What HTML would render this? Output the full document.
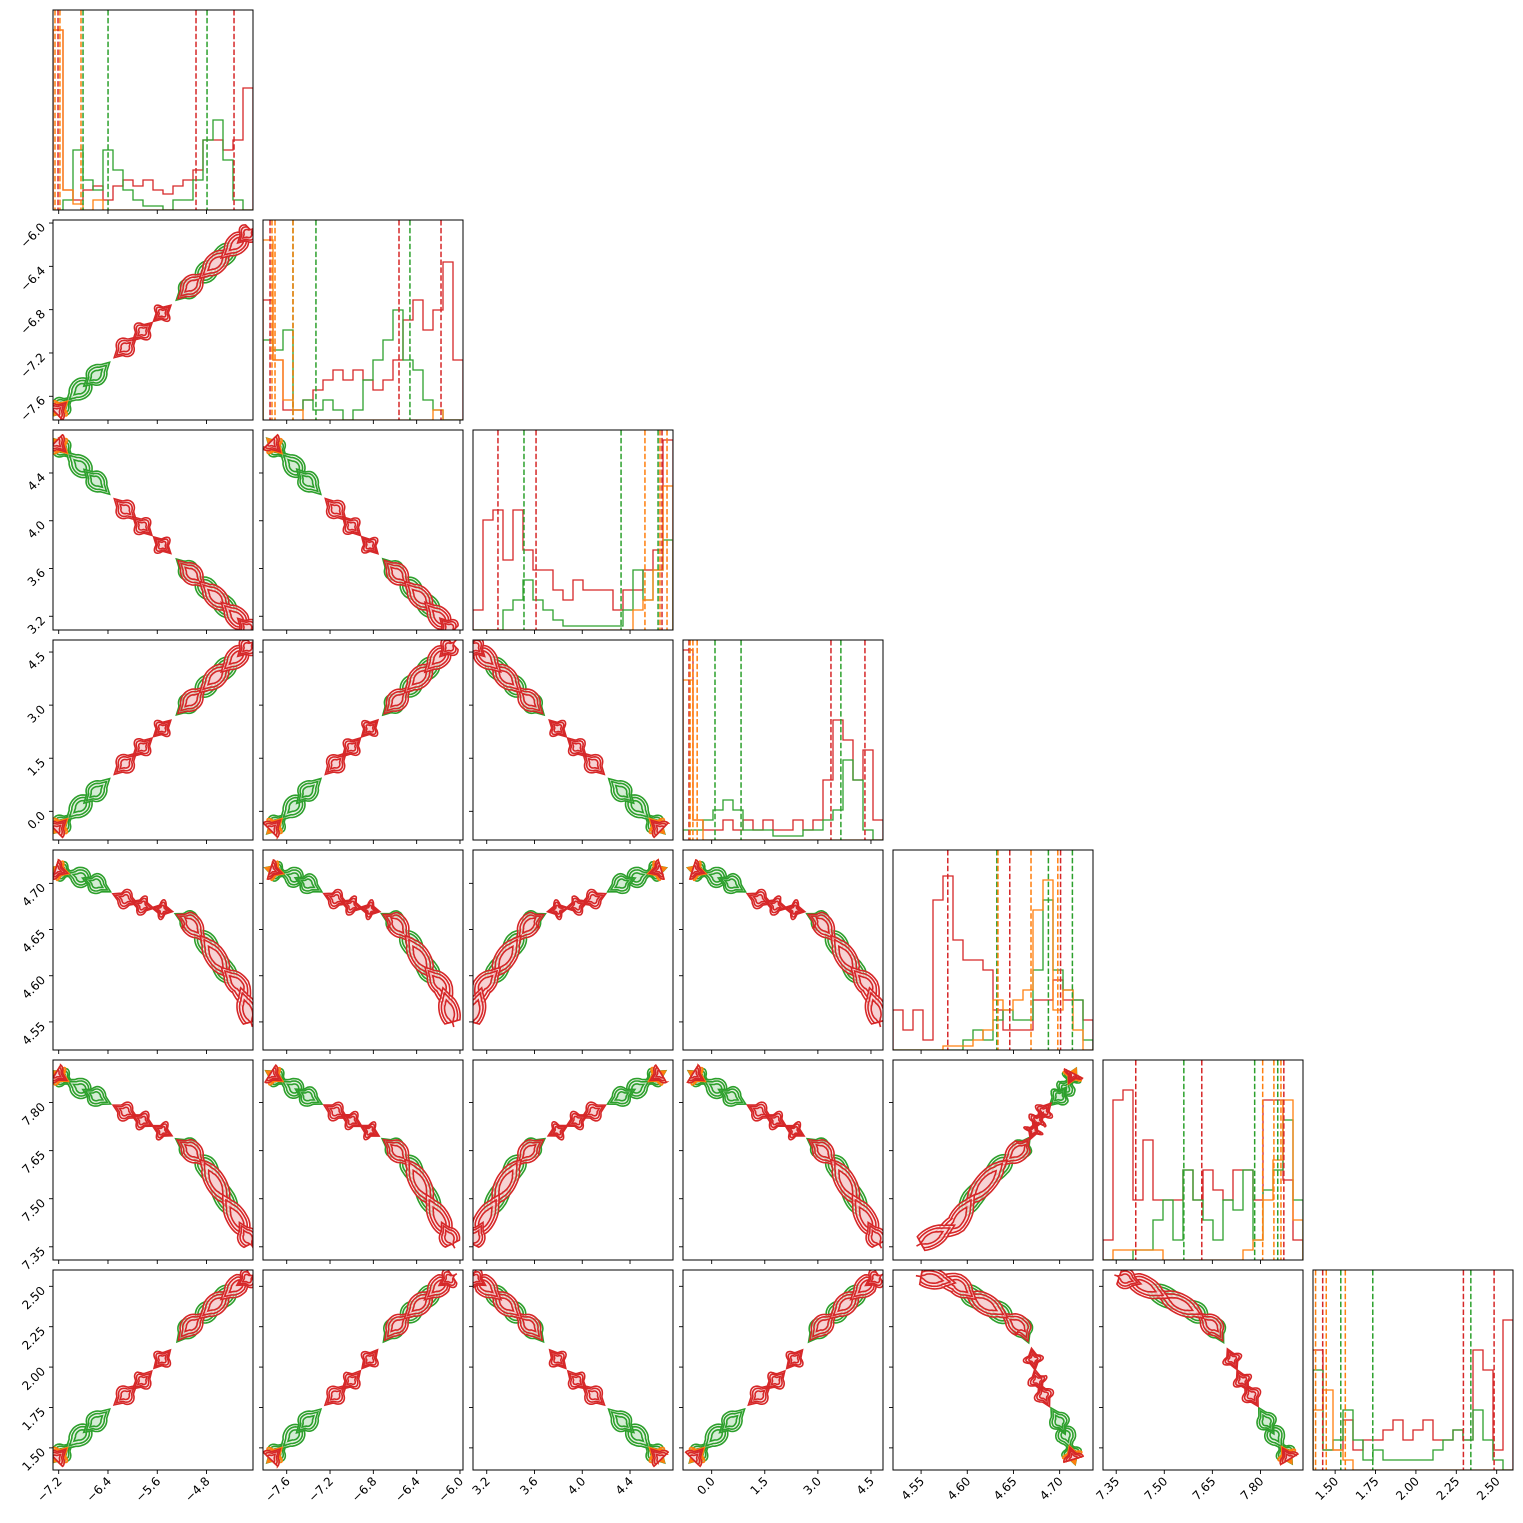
<!DOCTYPE html>
<html><head><meta charset="utf-8">
<style>
html,body{margin:0;padding:0;background:#fff;}
svg{display:block;font-family:"DejaVu Sans","Liberation Sans",sans-serif;}
</style></head>
<body>
<svg id="fig" xmlns="http://www.w3.org/2000/svg" width="1523" height="1523" viewBox="0 0 1523 1523"></svg>
<script>
// ---- axis ranges and ticks ----
const rangeLo=[-7.2925,-7.819,3.085,-0.81,4.5196,7.3088,1.363];
const rangeHi=[-4.046,-5.972,4.760,4.84,4.7361,7.9328,2.601];
const ticks0=[-7.2,-6.4,-5.6,-4.8];
const ticks1=[-7.6,-7.2,-6.8,-6.4,-6.0];
const ticks2=[3.2,3.6,4.0,4.4];
const ticks3=[0.0,1.5,3.0,4.5];
const ticks4=[4.55,4.60,4.65,4.70];
const ticks5=[7.35,7.50,7.65,7.80];
const ticks6=[1.50,1.75,2.00,2.25,2.50];
const tickDigits=[1,1,1,1,2,2,2];
// ---- parameter ridge (knots along latent t = 0,0.1,...,1) ----
const ridge0=[-7.25,-6.9,-6.6,-6.2,-5.8,-5.4,-5.1,-4.8,-4.5,-4.25,-4.08];
const ridge1=[-7.75,-7.56,-7.41,-7.19,-6.98,-6.77,-6.61,-6.45,-6.29,-6.16,-6.07];
const ridge2=[4.66,4.485,4.335,4.135,3.935,3.735,3.585,3.435,3.285,3.16,3.075];
const ridge3=[-0.53,0.05,0.55,1.21,1.88,2.54,3.04,3.54,4.04,4.45,4.73];
const ridge4=[4.715,4.708,4.70,4.685,4.675,4.67,4.66,4.635,4.605,4.588,4.55];
const ridge5=[7.89,7.85,7.82,7.78,7.74,7.70,7.66,7.60,7.50,7.42,7.36];
const ridge6=[1.43,1.56,1.66,1.80,1.93,2.10,2.24,2.34,2.44,2.52,2.56];
// ---- contour modes (position along ridge, half-extent) ----
const redModeT=[0.0,0.32,0.39,0.47,0.62,0.75,0.88,0.97];
const redModeW=[0.02,0.02,0.015,0.012,0.04,0.05,0.06,0.04];
const greenModeT=[0.03,0.12,0.2,0.6,0.7,0.8];
const greenModeW=[0.02,0.04,0.03,0.03,0.04,0.05];
const orangeModeT=[0.0,0.02];
const orangeModeW=[0.015,0.01];
// ---- histograms (20 bins each, fraction of panel height) ----
const histRed=[
[0.9,0.1,0.05,0.1,0.12,0.05,0.12,0.15,0.12,0.15,0.1,0.08,0.12,0.15,0.2,0.35,0.35,0.3,0.35,0.61],
[0.6,0.3,0.05,0.05,0.1,0.15,0.2,0.25,0.2,0.25,0.2,0.15,0.2,0.3,0.5,0.6,0.45,0.55,0.79,0.3],
[0.1,0.55,0.6,0.35,0.6,0.4,0.3,0.3,0.2,0.15,0.25,0.2,0.2,0.2,0.1,0.2,0.2,0.3,0.4,0.95],
[0.95,0.1,0.05,0.05,0.1,0.05,0.1,0.05,0.1,0.05,0.05,0.1,0.05,0.1,0.3,0.6,0.5,0.3,0.45,0.1],
[0.2,0.1,0.2,0.05,0.75,0.87,0.55,0.45,0.45,0.4,0.2,0.1,0.1,0.1,0.25,0.25,0.35,0.25,0.25,0.15],
[0.1,0.8,0.85,0.3,0.6,0.3,0.3,0.3,0.45,0.3,0.45,0.35,0.3,0.45,0.45,0.3,0.8,0.8,0.4,0.1],
[0.6,0.1,0.1,0.25,0.1,0.15,0.15,0.2,0.25,0.15,0.2,0.25,0.15,0.15,0.2,0.15,0.6,0.5,0.1,0.75]];
const histGreen=[
[0,0.05,0.3,0.15,0.1,0.3,0.2,0.1,0.05,0.02,0.02,0,0.05,0.05,0.15,0.35,0.45,0.25,0.05,0],
[0.4,0.35,0.45,0.05,0.1,0.05,0.1,0.05,0,0.05,0.2,0.3,0.4,0.55,0.3,0.25,0.1,0.05,0,0],
[0,0,0,0.1,0.15,0.25,0.15,0.1,0.05,0.02,0.02,0.02,0.02,0.02,0.02,0.1,0.3,0.15,0.3,0.45],
[0.05,0.05,0.1,0.15,0.2,0.15,0.05,0.05,0.05,0.02,0.02,0.02,0.05,0.05,0.1,0.15,0.4,0.3,0.05,0],
[0,0,0,0,0,0,0,0.05,0.1,0.05,0.15,0.2,0.15,0.15,0.4,0.75,0.4,0.3,0.25,0.05],
[0,0,0,0.05,0.05,0.2,0.3,0.1,0.45,0.3,0.2,0.1,0.3,0.25,0.45,0.1,0.35,0.45,0.7,0.3],
[0.5,0.1,0.15,0.3,0.15,0.05,0.1,0.05,0.05,0.05,0.05,0.05,0.1,0.15,0.2,0.15,0.3,0.15,0.05,0]];
const histOrange=[
[0.9,0.1,0.03,0,0.05,0,0,0,0,0,0,0,0,0,0,0,0,0,0,0],
[0.9,0.3,0.1,0.05,0,0,0,0,0,0,0,0,0,0,0,0,0,0.05,0,0],
[0,0,0,0,0,0,0,0,0,0,0,0,0,0,0,0,0.1,0.15,0.3,0.72],
[0.8,0.1,0,0,0,0,0,0,0,0,0,0,0,0,0,0,0,0,0,0],
[0,0,0,0,0,0.02,0.02,0.02,0.05,0.1,0.25,0.2,0.25,0.3,0.7,0.85,0.2,0.3,0.1,0],
[0,0.05,0.05,0.05,0.05,0.05,0,0,0,0,0,0,0,0,0.05,0.1,0.3,0.5,0.8,0.2],
[0.3,0.4,0.1,0.05,0,0,0,0,0,0,0,0,0,0,0,0,0,0,0,0]];
// ---- quantiles (16/50/84%) ----
const qRed=[[-7.211,-4.971,-4.354],[-7.754,-6.563,-6.175],[3.294,3.613,4.668],[-0.64,3.37,4.33],[4.5789,4.646,4.701],[7.411,7.617,7.873],[1.423,2.294,2.484]];
const qGreen=[[-6.805,-6.399,-4.792],[-7.542,-7.33,-6.462],[3.512,4.325,4.635],[0.094,0.83,3.65],[4.632,4.6878,4.7138],[7.561,7.782,7.854],[1.535,1.733,2.34]];
const qOrange=[[-7.26,-7.18,-6.838],[-7.736,-7.708,-7.542],[4.525,4.651,4.71],[-0.61,-0.53,-0.41],[4.6332,4.669,4.698],[7.807,7.842,7.864],[1.379,1.445,1.563]];

const ticksAll=[ticks0,ticks1,ticks2,ticks3,ticks4,ticks5,ticks6];
const ridges=[ridge0,ridge1,ridge2,ridge3,ridge4,ridge5,ridge6];
const RED='#d62728',GREEN='#2ca02c',ORANGE='#ff7f0e';
const NS='http://www.w3.org/2000/svg';
const fig=document.getElementById('fig');
const S=200,N=7;
function L(j){return 53+210*j;}
function T(i){return 10+210*i;}
function xs(j,v){return L(j)+(v-rangeLo[j])/(rangeHi[j]-rangeLo[j])*S;}
function ys(i,v){return T(i)+S-(v-rangeLo[i])/(rangeHi[i]-rangeLo[i])*S;}
function mk(tag,attrs,parent){const e=document.createElementNS(NS,tag);for(const k in attrs)e.setAttribute(k,attrs[k]);(parent||fig).appendChild(e);return e;}
function ridge(p,t){t=Math.max(0,Math.min(1,t));const f=t*10;const a=Math.min(9,Math.floor(f));const r=f-a;return ridges[p][a]*(1-r)+ridges[p][a+1]*r;}
function fmt(v,d){return (v<0?'\u2212':'')+Math.abs(v).toFixed(d);}

const defs=mk('defs',{});
for(let i=0;i<N;i++)for(let j=0;j<=i;j++){
  const cp=mk('clipPath',{id:'c'+i+'_'+j},defs);
  mk('rect',{x:L(j),y:T(i),width:S,height:S},cp);
}

function modeShape(i,j,t,w,rad){
  const M=16;
  const P=tt=>[xs(j,ridge(j,tt)),ys(i,ridge(i,tt))];
  const up=[],dn=[];
  for(let k=0;k<=M;k++){
    const u=k/M,tt=t-w+2*w*u;
    const a=P(tt-0.005),b=P(tt+0.005),c=P(tt);
    let dx=b[0]-a[0],dy=b[1]-a[1];const l=Math.hypot(dx,dy)||1;dx/=l;dy/=l;
    const r=rad*Math.sqrt(Math.max(0.15,1-(2*u-1)*(2*u-1)));
    up.push([c[0]-dy*r,c[1]+dx*r]);dn.push([c[0]+dy*r,c[1]-dx*r]);
  }
  const a0=P(t-w),a1=P(t-w+0.01),b0=P(t+w),b1=P(t+w-0.01);
  const e=(p,q)=>{let dx=p[0]-q[0],dy=p[1]-q[1];const l=Math.hypot(dx,dy)||1;return [p[0]+dx/l*rad*0.7,p[1]+dy/l*rad*0.7];};
  const all=[e(a0,a1),...up,e(b0,b1),...dn.reverse()];
  return all.map((p,k)=>(k?'L':'M')+p[0].toFixed(1)+' '+p[1].toFixed(1)).join('')+'Z';
}

for(let i=0;i<N;i++){
  for(let j=0;j<=i;j++){
    const g=mk('g',{'clip-path':'url(#c'+i+'_'+j+')'});
    
    
    if(i===j){
      const bw=S/20,bot=T(i)+S;
      [[histRed,RED,'red'],[histGreen,GREEN,'green'],[histOrange,ORANGE,'orange']].forEach(([H,col,nm])=>{
        let d='M'+L(j)+' '+bot;
        H[i].forEach((h,b)=>{const y=bot-h*S;d+='L'+(L(j)+b*bw)+' '+y+'L'+(L(j)+(b+1)*bw)+' '+y;});
        d+='L'+(L(j)+S)+' '+bot;
        const p=mk('path',{d:d,fill:'none',stroke:col,'stroke-width':1.3},g);
        
        
      });
      [[qRed,RED,'red'],[qGreen,GREEN,'green'],[qOrange,ORANGE,'orange']].forEach(([Q,col,nm])=>{
        Q[i].forEach(v=>{
          const x=xs(j,v);
          const ln=mk('line',{x1:x,x2:x,y1:T(i),y2:T(i)+S,stroke:col,'stroke-width':1.5,'stroke-dasharray':'5.5,2.4'},g);
          
          
        });
      });
    } else {
      [[greenModeT,greenModeW,GREEN,'#d3ecd3','green'],[orangeModeT,orangeModeW,ORANGE,'#ffe2c9','orange'],[redModeT,redModeW,RED,'#f6d2d3','red']].forEach(([MT,MW,col,fillc,nm])=>{
        MT.forEach((t,k)=>{
          const outer=mk('path',{d:modeShape(i,j,t,MW[k]*1.2,10),fill:'#fdf0f0','fill-opacity':0.5,stroke:col,'stroke-width':1.6},g);
          
          
          const mid=mk('path',{d:modeShape(i,j,t,MW[k]*0.95,7.5),fill:fillc,'fill-opacity':0.6,stroke:col,'stroke-width':1.6},g);
          
          
          const inner=mk('path',{d:modeShape(i,j,t,MW[k]*0.6,4.5),fill:fillc,stroke:col,'stroke-width':1.6},g);
          
          
        });
      });
    }
    const fr=mk('rect',{x:L(j),y:T(i),width:S,height:S,fill:'none',stroke:'#000','stroke-width':1});
    
    
    ticksAll[j].forEach(v=>{
      const x=xs(j,v);
      const tk=mk('line',{x1:x,x2:x,y1:T(i)+S,y2:T(i)+S+4,stroke:'#000','stroke-width':0.9});
      
      
      if(i===N-1){
        const tx=mk('text',{transform:'translate('+(x+4)+','+(T(i)+S+12)+') rotate(-45)','text-anchor':'end','font-size':12,fill:'#000'});
        tx.textContent=fmt(v,tickDigits[j]);
        
        
      }
    });
    if(i!==j){
      ticksAll[i].forEach(v=>{
        const y=ys(i,v);
        const tk=mk('line',{x1:L(j)-4,x2:L(j),y1:y,y2:y,stroke:'#000','stroke-width':0.9});
        
        
        if(j===0){
          const tx=mk('text',{transform:'translate('+(L(j)-7)+','+(y+5)+') rotate(-45)','text-anchor':'end','font-size':12,fill:'#000'});
          tx.textContent=fmt(v,tickDigits[i]);
          
          
        }
      });
    }
  }
}
</script>
</body></html>
